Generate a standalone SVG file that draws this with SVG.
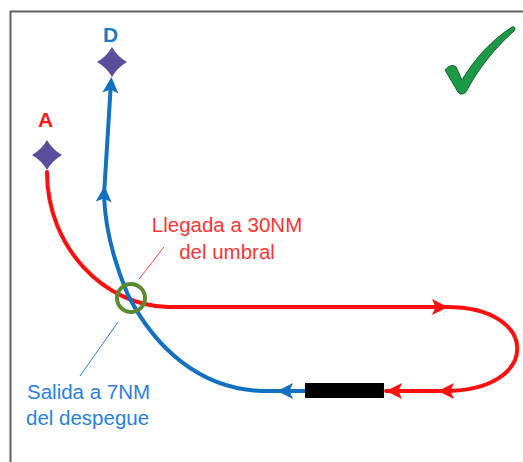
<svg xmlns="http://www.w3.org/2000/svg" width="523" height="462" viewBox="0 0 523 462">
  <style>
    .red { fill: none; stroke: #ff1010; stroke-width: 4; stroke-linecap: round; stroke-linejoin: round; }
    .blue { fill: none; stroke: #1470c0; stroke-width: 4; stroke-linecap: round; stroke-linejoin: round; }
    .redHead { fill: #ff1010; }
    .blueHead { fill: #1470c0; }
    .star { fill: #5b4e9c; }
    .lbl { font-family: "Liberation Sans", Arial, sans-serif; font-size: 20.5px; }
    .big { font-family: "Liberation Sans", Arial, sans-serif; font-size: 21px; font-weight: bold; text-anchor: middle; }
  </style>
  <defs>
    <path id="head" d="M0,0 L-16,-8 L-12.5,0 L-16,8 Z"/>
    <path id="diamond" d="M0,-15 Q5.5,-5.5 15,0 Q5.5,5.5 0,15 Q-5.5,5.5 -15,0 Q-5.5,-5.5 0,-15 Z"/>
  </defs>
  <rect x="0" y="0" width="523" height="462" fill="#ffffff"/>
  <path d="M10.5,462 V11.5 H523" fill="none" stroke="#606060" stroke-width="2"/>

  <g id="connectors">
    <path id="arrival" class="red" d="M47,172 C47,248 105,306 168,307 L447,307 C541,307 541,391 445,391 L386,391"/>
    <use href="#head" class="redHead" transform="translate(448,307)"/>
    <use href="#head" class="redHead" transform="translate(438,391) rotate(180)"/>
    <use href="#head" class="redHead" transform="translate(386,391) rotate(180)"/>
    <path id="departure" class="blue" d="M305,391 L262,391 C200,389 155,348 128,295 C114,262 105,226 104,195 L111,82"/>
    <use href="#head" class="blueHead" transform="translate(277,391) rotate(180)"/>
    <use href="#head" class="blueHead" transform="translate(104.5,186) rotate(-87)"/>
    <use href="#head" class="blueHead" transform="translate(111.5,77) rotate(-86)"/>
    <line x1="139" y1="279" x2="164" y2="247" stroke="#ff4a4a" stroke-width="1"/>
    <line x1="118" y1="322" x2="80" y2="376" stroke="#2a80e0" stroke-width="1"/>
  </g>

  <g id="node-D">
    <use href="#diamond" class="star" transform="translate(112,62)"/>
    <text class="big" x="110.5" y="42" fill="#1a7cc8">D</text>
  </g>
  <g id="node-A">
    <use href="#diamond" class="star" transform="translate(47,155)"/>
    <text class="big" x="45.5" y="127" fill="#ff1a1a">A</text>
  </g>
  <g id="node-runway">
    <rect x="305" y="383" width="79" height="15" fill="#000000"/>
  </g>
  <g id="node-crossing">
    <circle cx="131" cy="298" r="14" fill="none" stroke="#5a8a32" stroke-width="4"/>
  </g>
  <g id="label-arrival">
    <text class="lbl" fill="#ff3535" text-anchor="middle" x="227" y="232">Llegada a 30NM</text>
    <text class="lbl" fill="#ff3535" text-anchor="middle" x="227" y="259">del umbral</text>
  </g>
  <g id="label-departure">
    <text class="lbl" fill="#2a80e0" x="27" y="399">Salida a 7NM</text>
    <text class="lbl" fill="#2a80e0" x="26" y="425">del despegue</text>
  </g>
  <g id="check">
    <path d="M445,70 C448,66 453,64 456,67 L462,80 C475,58 492,40 512,27 C515,26 516,29 514,31 C496,47 480,66 467,90 C465,95 460,95 458,92 Z" fill="#1a9a46" stroke="#1c5c2c" stroke-width="1"/>
  </g>
</svg>
